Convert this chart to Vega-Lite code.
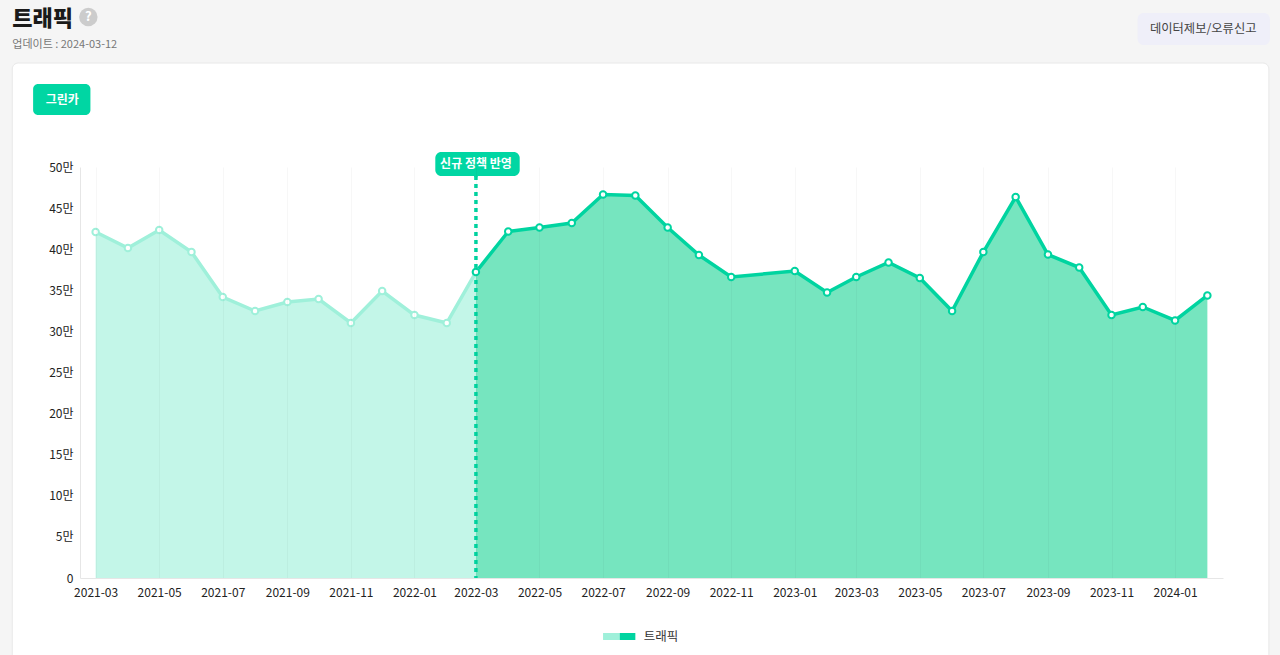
{
  "$schema": "https://vega.github.io/schema/vega-lite/v6.json",
  "width": 1143,
  "height": 411,
  "autosize": "none",
  "padding": {"left": 80, "top": 167, "right": 57, "bottom": 77},
  "background": "#f5f5f5",
  "config": {
    "font": "Noto Sans CJK KR",
    "view": {"stroke": null}
  },
  "data": {
    "values": [
      {"month": "2021-03-01", "traffic": 420900, "period": "before"},
      {"month": "2021-04-01", "traffic": 401400, "period": "before"},
      {"month": "2021-05-01", "traffic": 423300, "period": "before"},
      {"month": "2021-06-01", "traffic": 396600, "period": "before"},
      {"month": "2021-07-01", "traffic": 341800, "period": "before"},
      {"month": "2021-08-01", "traffic": 324800, "period": "before"},
      {"month": "2021-09-01", "traffic": 335800, "period": "before"},
      {"month": "2021-10-01", "traffic": 339400, "period": "before"},
      {"month": "2021-11-01", "traffic": 310200, "period": "before"},
      {"month": "2021-12-01", "traffic": 349100, "period": "before"},
      {"month": "2022-01-01", "traffic": 319900, "period": "before"},
      {"month": "2022-02-01", "traffic": 310200, "period": "before"},
      {"month": "2022-03-01", "traffic": 372200, "period": "before"},
      {"month": "2022-03-01", "traffic": 372200, "period": "after"},
      {"month": "2022-04-01", "traffic": 421500, "period": "after"},
      {"month": "2022-05-01", "traffic": 426400, "period": "after"},
      {"month": "2022-06-01", "traffic": 431900, "period": "after"},
      {"month": "2022-07-01", "traffic": 466500, "period": "after"},
      {"month": "2022-08-01", "traffic": 465300, "period": "after"},
      {"month": "2022-09-01", "traffic": 426400, "period": "after"},
      {"month": "2022-10-01", "traffic": 392900, "period": "after"},
      {"month": "2022-11-01", "traffic": 366200, "period": "after"},
      {"month": "2023-01-01", "traffic": 373500, "period": "after"},
      {"month": "2023-02-01", "traffic": 347300, "period": "after"},
      {"month": "2023-03-01", "traffic": 366200, "period": "after"},
      {"month": "2023-04-01", "traffic": 383800, "period": "after"},
      {"month": "2023-05-01", "traffic": 365000, "period": "after"},
      {"month": "2023-06-01", "traffic": 324800, "period": "after"},
      {"month": "2023-07-01", "traffic": 396600, "period": "after"},
      {"month": "2023-08-01", "traffic": 463500, "period": "after"},
      {"month": "2023-09-01", "traffic": 393500, "period": "after"},
      {"month": "2023-10-01", "traffic": 377700, "period": "after"},
      {"month": "2023-11-01", "traffic": 319900, "period": "after"},
      {"month": "2023-12-01", "traffic": 329700, "period": "after"},
      {"month": "2024-01-01", "traffic": 313300, "period": "after"},
      {"month": "2024-02-01", "traffic": 343700, "period": "after"}
    ]
  },
  "encoding": {
    "x": {
      "field": "month",
      "type": "temporal",
      "title": null,
      "scale": {
        "type": "utc",
        "domain": [
          {"year": 2021, "month": 2, "date": 14, "utc": true},
          {"year": 2024, "month": 2, "date": 16, "utc": true}
        ]
      },
      "axis": {
        "format": "%Y-%m",
        "tickCount": {"interval": "month", "step": 2},
        "labelOverlap": false,
        "labelFontSize": 12,
        "labelColor": "#222222",
        "labelPadding": 9,
        "ticks": false,
        "grid": true,
        "gridColor": "#000000",
        "gridOpacity": 0.03,
        "domainColor": "#e6e6e6",
        "zindex": 1
      }
    },
    "y": {
      "field": "traffic",
      "type": "quantitative",
      "title": null,
      "scale": {"domain": [0, 500000], "nice": false},
      "axis": {
        "values": [0, 50000, 100000, 150000, 200000, 250000, 300000, 350000, 400000, 450000, 500000],
        "labelExpr": "datum.value == 0 ? '0' : datum.value / 10000 + '만'",
        "labelFontSize": 12,
        "labelColor": "#222222",
        "labelPadding": 7,
        "ticks": false,
        "grid": false,
        "domainColor": "#e6e6e6",
        "zindex": 1
      }
    },
    "color": {
      "field": "period",
      "type": "nominal",
      "legend": null,
      "scale": {"domain": ["before", "after"], "range": ["#c3f6e8", "#76e5bf"]}
    }
  },
  "layer": [
    {
      "transform": [{"filter": "datum.traffic == 343700"}],
      "mark": {"type": "rect", "stroke": "#e8e8e8", "cornerRadius": 6},
      "encoding": {
        "color": {"value": "#ffffff"},
        "x": {"datum": {"year": 2020, "month": 12, "date": 11, "utc": true}, "type": "temporal", "title": null},
        "x2": {"datum": {"year": 2024, "month": 3, "date": 31, "utc": true}},
        "y": {"datum": 626500, "type": "quantitative", "title": null},
        "y2": {"datum": -100000}
      }
    },
    {
      "transform": [{"filter": "datum.traffic == 343700"}],
      "mark": {"type": "text", "fontSize": 22, "fontWeight": 900, "align": "left", "baseline": "middle"},
      "encoding": {
        "color": {"value": "#1a1a1a"},
        "text": {"value": "트래픽"},
        "x": {"datum": {"year": 2020, "month": 12, "date": 11, "utc": true}, "type": "temporal", "title": null},
        "y": {"datum": 680000, "type": "quantitative", "title": null}
      }
    },
    {
      "transform": [{"filter": "datum.traffic == 343700"}],
      "mark": {"type": "text", "fontSize": 11, "align": "left", "baseline": "middle"},
      "encoding": {
        "color": {"value": "#777777"},
        "text": {"value": "업데이트 : 2024-03-12"},
        "x": {"datum": {"year": 2020, "month": 12, "date": 11, "utc": true}, "type": "temporal", "title": null},
        "y": {"datum": 648400, "type": "quantitative", "title": null}
      }
    },
    {
      "transform": [{"filter": "datum.traffic == 343700"}],
      "mark": {"type": "rect", "cornerRadius": 6},
      "encoding": {
        "color": {"value": "#efeff9"},
        "x": {"datum": {"year": 2023, "month": 11, "date": 26, "utc": true}, "type": "temporal", "title": null},
        "x2": {"datum": {"year": 2024, "month": 4, "date": 1, "utc": true}},
        "y": {"datum": 687300, "type": "quantitative", "title": null},
        "y2": {"datum": 648400}
      }
    },
    {
      "transform": [{"filter": "datum.traffic == 343700"}],
      "mark": {"type": "text", "fontSize": 12.3, "align": "center", "baseline": "middle"},
      "encoding": {
        "color": {"value": "#444444"},
        "text": {"value": "데이터제보/오류신고"},
        "x": {"datum": {"year": 2024, "month": 1, "date": 28, "utc": true}, "type": "temporal", "title": null},
        "y": {"datum": 667900, "type": "quantitative", "title": null}
      }
    },
    {
      "transform": [{"filter": "datum.traffic == 343700"}],
      "mark": {"type": "point", "shape": "circle", "filled": true, "size": 340, "opacity": 1},
      "encoding": {
        "color": {"value": "#cccccc"},
        "x": {"datum": {"year": 2021, "month": 2, "date": 22, "utc": true}, "type": "temporal", "title": null},
        "y": {"datum": 682500, "type": "quantitative", "title": null}
      }
    },
    {
      "transform": [{"filter": "datum.traffic == 343700"}],
      "mark": {"type": "text", "fontSize": 13, "fontWeight": "bold", "align": "center", "baseline": "middle"},
      "encoding": {
        "color": {"value": "#ffffff"},
        "text": {"value": "?"},
        "x": {"datum": {"year": 2021, "month": 2, "date": 22, "utc": true}, "type": "temporal", "title": null},
        "y": {"datum": 682500, "type": "quantitative", "title": null}
      }
    },
    {
      "transform": [{"filter": "datum.traffic == 343700"}],
      "mark": {"type": "rect", "cornerRadius": 5},
      "encoding": {
        "color": {"value": "#00d6a3"},
        "x": {"datum": {"year": 2020, "month": 12, "date": 31, "utc": true}, "type": "temporal", "title": null},
        "x2": {"datum": {"year": 2021, "month": 2, "date": 24, "utc": true}},
        "y": {"datum": 600950, "type": "quantitative", "title": null},
        "y2": {"datum": 563200}
      }
    },
    {
      "transform": [{"filter": "datum.traffic == 343700"}],
      "mark": {"type": "text", "fontSize": 12, "fontWeight": "bold", "align": "center", "baseline": "middle"},
      "encoding": {
        "color": {"value": "#ffffff"},
        "text": {"value": "그린카"},
        "x": {"datum": {"year": 2021, "month": 1, "date": 28, "utc": true}, "type": "temporal", "title": null},
        "y": {"datum": 581500, "type": "quantitative", "title": null}
      }
    },
    {
      "transform": [{"filter": "datum.period == 'before'"}],
      "mark": {"type": "area", "opacity": 1}
    },
    {
      "transform": [{"filter": "datum.period == 'after'"}],
      "mark": {"type": "area", "opacity": 1}
    },
    {
      "transform": [{"filter": "datum.period == 'before'"}],
      "mark": {"type": "line", "strokeWidth": 3.5},
      "encoding": {"color": {"value": "#9ff0da"}}
    },
    {
      "transform": [{"filter": "datum.traffic == 343700"}],
      "mark": {"type": "rule", "strokeWidth": 3.5, "strokeDash": [4, 4]},
      "encoding": {
        "color": {"value": "#00d4a0"},
        "x": {"datum": {"year": 2022, "month": 3, "date": 1, "utc": true}, "type": "temporal", "title": null},
        "y": {"datum": 489000, "type": "quantitative", "title": null},
        "y2": {"datum": 0}
      }
    },
    {
      "transform": [{"filter": "datum.period == 'after'"}],
      "mark": {"type": "line", "strokeWidth": 3.5},
      "encoding": {"color": {"value": "#00d4a0"}}
    },
    {
      "transform": [{"filter": "datum.period == 'before'"}],
      "mark": {"type": "point", "filled": true, "fill": "#ffffff", "size": 42, "strokeWidth": 2, "opacity": 1},
      "encoding": {"color": {"value": "#ffffff"}, "stroke": {"value": "#9ff0da"}}
    },
    {
      "transform": [{"filter": "datum.period == 'after'"}],
      "mark": {"type": "point", "filled": true, "fill": "#ffffff", "size": 42, "strokeWidth": 2, "opacity": 1},
      "encoding": {"color": {"value": "#ffffff"}, "stroke": {"value": "#00d4a0"}}
    },
    {
      "transform": [{"filter": "datum.traffic == 343700"}],
      "mark": {"type": "rect", "cornerRadius": 6},
      "encoding": {
        "color": {"value": "#00d6a3"},
        "x": {"datum": {"year": 2022, "month": 1, "date": 21, "utc": true}, "type": "temporal", "title": null},
        "x2": {"datum": {"year": 2022, "month": 4, "date": 12, "utc": true}},
        "y": {"datum": 518200, "type": "quantitative", "title": null},
        "y2": {"datum": 489000}
      }
    },
    {
      "transform": [{"filter": "datum.traffic == 343700"}],
      "mark": {"type": "point", "shape": "triangle-down", "filled": true, "size": 22, "opacity": 1},
      "encoding": {
        "color": {"value": "#00d6a3"},
        "x": {"datum": {"year": 2022, "month": 3, "date": 1, "utc": true}, "type": "temporal", "title": null},
        "y": {"datum": 487500, "type": "quantitative", "title": null}
      }
    },
    {
      "transform": [{"filter": "datum.traffic == 343700"}],
      "mark": {"type": "text", "fontSize": 12, "fontWeight": "bold", "align": "center", "baseline": "middle"},
      "encoding": {
        "color": {"value": "#ffffff"},
        "text": {"value": "신규 정책 반영"},
        "x": {"datum": {"year": 2022, "month": 3, "date": 1, "utc": true}, "type": "temporal", "title": null},
        "y": {"datum": 504000, "type": "quantitative", "title": null}
      }
    },
    {
      "transform": [{"filter": "datum.traffic == 343700"}],
      "mark": {"type": "rect"},
      "encoding": {
        "color": {"value": "#9ff0da"},
        "x": {"datum": {"year": 2022, "month": 7, "date": 1, "utc": true}, "type": "temporal", "title": null},
        "x2": {"datum": {"year": 2022, "month": 7, "date": 17, "utc": true}},
        "y": {"datum": -66900, "type": "quantitative", "title": null},
        "y2": {"datum": -75400}
      }
    },
    {
      "transform": [{"filter": "datum.traffic == 343700"}],
      "mark": {"type": "rect"},
      "encoding": {
        "color": {"value": "#00d4a0"},
        "x": {"datum": {"year": 2022, "month": 7, "date": 17, "utc": true}, "type": "temporal", "title": null},
        "x2": {"datum": {"year": 2022, "month": 8, "date": 1, "utc": true}},
        "y": {"datum": -66900, "type": "quantitative", "title": null},
        "y2": {"datum": -75400}
      }
    },
    {
      "transform": [{"filter": "datum.traffic == 343700"}],
      "mark": {"type": "text", "fontSize": 12.5, "align": "left", "baseline": "middle"},
      "encoding": {
        "color": {"value": "#333333"},
        "text": {"value": "트래픽"},
        "x": {"datum": {"year": 2022, "month": 8, "date": 9, "utc": true}, "type": "temporal", "title": null},
        "y": {"datum": -71500, "type": "quantitative", "title": null}
      }
    }
  ]
}
